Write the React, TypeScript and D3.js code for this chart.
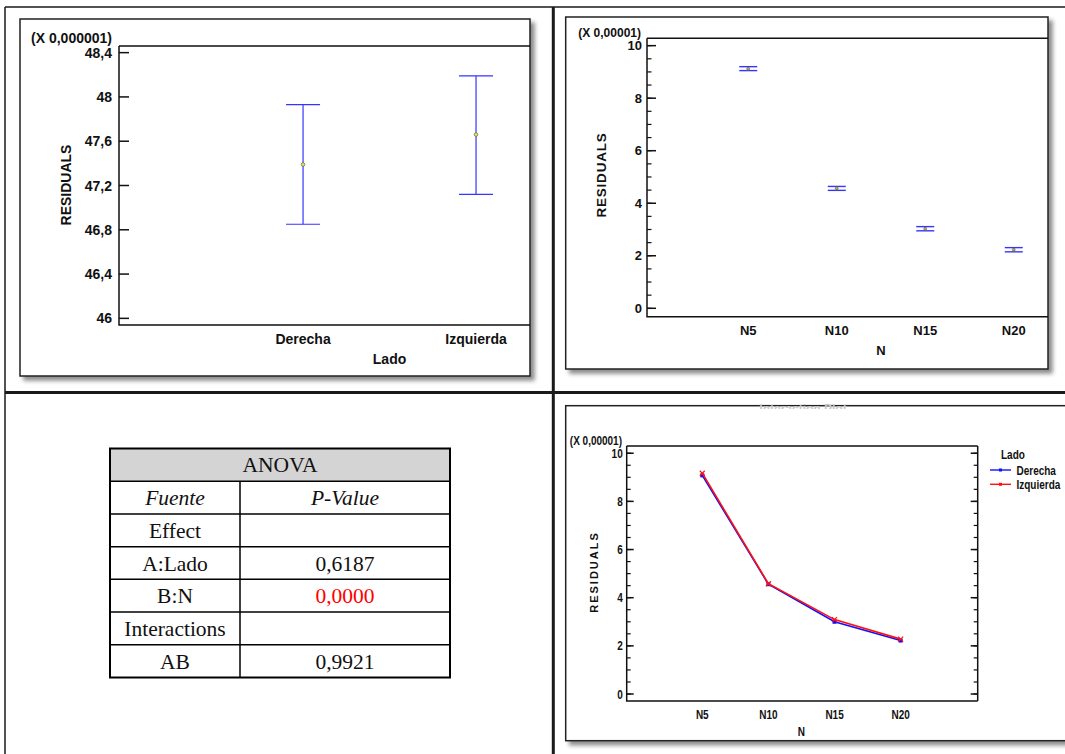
import * as d3 from "d3";

const LADO = ["Derecha", "Izquierda"];
const LADO_MEAN = [47.39, 47.66];
const LADO_LOW = [46.85, 47.12];
const LADO_HIGH = [47.93, 48.19];
const LADO_TICKS = [46, 46.4, 46.8, 47.2, 47.6, 48, 48.4];

const N_LEVELS = ["N5", "N10", "N15", "N20"];
const N_MEAN = [9.12, 4.57, 3.03, 2.23];
const N_LOW = [9.05, 4.49, 2.95, 2.15];
const N_HIGH = [9.2, 4.64, 3.11, 2.31];
const N_TICKS = [0, 2, 4, 6, 8, 10];

const DERECHA = [9.08, 4.56, 3.0, 2.22];
const IZQUIERDA = [9.17, 4.58, 3.09, 2.28];

const ANOVA_FUENTE = ["Effect", "A:Lado", "B:N", "Interactions", "AB"];
const ANOVA_P = ["", "0,6187", "0,0000", "", "0,9921"];
const ANOVA_SIGNIF = [false, false, true, false, false];

const W = 1065;
const H = 754;
const SANS = "'Liberation Sans', Arial, sans-serif";
const SERIF = "'Liberation Serif', 'Times New Roman', serif";
const BLUE = "#3535ff";

const fmt = d3
  .formatLocale({ decimal: ",", thousands: ".", grouping: [3], currency: ["", ""] })
  .format("~g");

function Panel({ x, y, w, h }: { x: number; y: number; w: number; h: number }) {
  return (
    <rect x={x} y={y} width={w} height={h} fill="#fff" stroke="#222" strokeWidth={1.5} filter="url(#shadow)" />
  );
}

function Frame({ l, t, r, b }: { l: number; t: number; r: number; b: number }) {
  return (
    <path d={`M${l},${t}H${r}M${l},${t}V${b}H${r}`} fill="none" stroke="#111" strokeWidth={1.5} />
  );
}

// condensed text: no narrow font installed, so squeeze horizontally
function Narrow({
  x,
  y,
  anchor = "start",
  size = 12.5,
  children,
  fill,
}: {
  x: number;
  y: number;
  anchor?: string;
  size?: number;
  children: any;
  fill?: string;
}) {
  return (
    <text transform={`translate(${x},${y}) scale(0.8,1)`} textAnchor={anchor} fontSize={size} fill={fill}>
      {children}
    </text>
  );
}

// top-left: means by Lado
function LadoMeans() {
  const l = 119, t = 46, r = 530, b = 325;
  const y = d3.scaleLinear().domain([45.94, 48.46]).range([b, t]);
  const x = d3.scaleLinear().domain([-0.064, 2.312]).range([l, r]);
  return (
    <g fontFamily={SANS} fontWeight="bold" fill="#111">
      <Panel x={20} y={19} w={510} h={357} />
      <Frame l={l} t={t} r={r} b={b} />
      {LADO_TICKS.map((v) => (
        <g key={v}>
          <line x1={l} x2={l + 10} y1={y(v)} y2={y(v)} stroke="#111" strokeWidth={1.5} />
          <text x={l - 7} y={y(v)} dy="0.36em" textAnchor="end" fontSize={14}>
            {fmt(v)}
          </text>
        </g>
      ))}
      <text x={112} y={43} textAnchor="end" fontSize={14}>(X 0,000001)</text>
      <text transform={`translate(71,185) rotate(-90)`} textAnchor="middle" fontSize={14}>
        RESIDUALS
      </text>
      {LADO.map((name, i) => {
        const cx = x(i + 1);
        return (
          <g key={name}>
            <line x1={cx} x2={cx} y1={y(LADO_LOW[i])} y2={y(LADO_HIGH[i])} stroke={BLUE} strokeWidth={1.2} />
            <line x1={cx - 17} x2={cx + 17} y1={y(LADO_LOW[i])} y2={y(LADO_LOW[i])} stroke={BLUE} strokeWidth={1.2} />
            <line x1={cx - 17} x2={cx + 17} y1={y(LADO_HIGH[i])} y2={y(LADO_HIGH[i])} stroke={BLUE} strokeWidth={1.2} />
            <circle cx={cx} cy={y(LADO_MEAN[i])} r={1.8} fill="#e8e070" stroke="#777733" strokeWidth={0.8} />
            <text x={cx} y={344} textAnchor="middle" fontSize={14}>{name}</text>
          </g>
        );
      })}
      <text x={(x(1) + x(2)) / 2} y={364} textAnchor="middle" fontSize={14}>Lado</text>
    </g>
  );
}

// top-right: means by N
function NMeans() {
  const l = 647, t = 38.3, r = 1048, b = 316.7;
  const y = d3.scaleLinear().domain([-0.32, 10.28]).range([b, t]);
  const x = d3.scaleLinear().domain([-0.144, 4.387]).range([l, r]);
  const minor = d3.range(0, 10.01, 0.5);
  return (
    <g fontFamily={SANS} fontWeight="bold" fill="#111">
      <Panel x={565.7} y={17} w={482.3} h={352} />
      <Frame l={l} t={t} r={r} b={b} />
      {minor.map((v) => (
        <line key={v} x1={l} x2={l + 4.5} y1={y(v)} y2={y(v)} stroke="#111" strokeWidth={1.2} />
      ))}
      {N_TICKS.map((v) => (
        <g key={v}>
          <line x1={l} x2={l + 9} y1={y(v)} y2={y(v)} stroke="#111" strokeWidth={1.5} />
          <text x={l - 5} y={y(v)} dy="0.36em" textAnchor="end" fontSize={13}>
            {fmt(v)}
          </text>
        </g>
      ))}
      <text x={641} y={36.5} textAnchor="end" fontSize={12}>(X 0,00001)</text>
      <text transform={`translate(606,175) rotate(-90)`} textAnchor="middle" fontSize={13.5} letterSpacing={0.8}>
        RESIDUALS
      </text>
      {N_LEVELS.map((name, i) => {
        const cx = x(i + 1);
        return (
          <g key={name}>
            <line x1={cx} x2={cx} y1={y(N_LOW[i])} y2={y(N_HIGH[i])} stroke={BLUE} strokeWidth={1.2} />
            <line x1={cx - 9} x2={cx + 9} y1={y(N_LOW[i])} y2={y(N_LOW[i])} stroke={BLUE} strokeWidth={1.4} />
            <line x1={cx - 9} x2={cx + 9} y1={y(N_HIGH[i])} y2={y(N_HIGH[i])} stroke={BLUE} strokeWidth={1.4} />
            <circle cx={cx} cy={y(N_MEAN[i])} r={1.5} fill="#b8b040" stroke="#666633" strokeWidth={0.6} />
            <text x={cx} y={335} textAnchor="middle" fontSize={13}>{name}</text>
          </g>
        );
      })}
      <text x={(x(2) + x(3)) / 2} y={355} textAnchor="middle" fontSize={13}>N</text>
    </g>
  );
}

// bottom-right: interaction plot
function Interaction() {
  const l = 626.7, t = 446, r = 977.7, b = 701;
  const y = d3.scaleLinear().domain([-0.29, 10.3]).range([b, t]);
  const x = d3.scaleLinear().domain([-0.143, 5.165]).range([l, r]);
  const minor = d3.range(0, 10.01, 0.5);
  const line = d3
    .line<number>()
    .x((_, i) => x(i + 1))
    .y((d) => y(d));
  return (
    <g fontFamily={SANS} fontWeight="bold" fill="#111">
      <Panel x={565.7} y={405.7} w={520} h={335} />
      <clipPath id="ttl">
        <rect x={740} y={401} width={120} height={8} />
      </clipPath>
      <text x={803} y={413} textAnchor="middle" fontSize={12} fill="#c8c8c8" clipPath="url(#ttl)">
        Interaction Plot
      </text>
      <Frame l={l} t={t} r={r} b={b} />
      <line x1={r} x2={r} y1={t} y2={b} stroke="#111" strokeWidth={1.5} />
      {minor.map((v) => (
        <g key={v} stroke="#111" strokeWidth={1.2}>
          <line x1={l} x2={l + 4} y1={y(v)} y2={y(v)} />
          <line x1={r} x2={r - 4} y1={y(v)} y2={y(v)} />
        </g>
      ))}
      {N_TICKS.map((v) => (
        <g key={v}>
          <g stroke="#111" strokeWidth={1.5}>
            <line x1={l} x2={l + 7} y1={y(v)} y2={y(v)} />
            <line x1={r} x2={r - 7} y1={y(v)} y2={y(v)} />
          </g>
          <Narrow x={l - 4} y={y(v) + 4.5} anchor="end">
            {fmt(v)}
          </Narrow>
        </g>
      ))}
      <Narrow x={622} y={445} anchor="end">(X 0,00001)</Narrow>
      <text transform={`translate(598,572) rotate(-90)`} textAnchor="middle" fontSize={11} letterSpacing={2}>
        RESIDUALS
      </text>
      <path d={line(DERECHA) ?? ""} fill="none" stroke="#1010ff" strokeWidth={1.6} />
      {DERECHA.map((v, i) => (
        <rect key={i} x={x(i + 1) - 2} y={y(v) - 2} width={4} height={4} fill="#1010ff" />
      ))}
      <path d={line(IZQUIERDA) ?? ""} fill="none" stroke="#ff1010" strokeWidth={1.6} />
      {IZQUIERDA.map((v, i) => (
        <path
          key={i}
          d={`M${x(i + 1) - 2.5},${y(v) - 2.5}L${x(i + 1) + 2.5},${y(v) + 2.5}M${x(i + 1) - 2.5},${y(v) + 2.5}L${x(i + 1) + 2.5},${y(v) - 2.5}`}
          stroke="#ff1010"
          strokeWidth={1.2}
        />
      ))}
      {N_LEVELS.map((name, i) => (
        <Narrow key={name} x={x(i + 1)} y={719} anchor="middle">{name}</Narrow>
      ))}
      <Narrow x={(x(2) + x(3)) / 2} y={735.5} anchor="middle">N</Narrow>
      <Narrow x={1001} y={459}>Lado</Narrow>
      {[
        { name: "Derecha", color: "#1010ff", yy: 470 },
        { name: "Izquierda", color: "#ff1010", yy: 484.3 },
      ].map((e) => (
        <g key={e.name}>
          <line x1={990} x2={1011} y1={e.yy} y2={e.yy} stroke={e.color} strokeWidth={1.4} />
          <rect x={999} y={e.yy - 1.5} width={3} height={3} fill={e.color} />
          <Narrow x={1016.5} y={e.yy + 4.5}>{e.name}</Narrow>
        </g>
      ))}
    </g>
  );
}

function AnovaTable() {
  const l = 110, r = 450, mid = 240;
  const rows = ["ANOVA", "Fuente", ...ANOVA_FUENTE];
  const y = d3.scaleBand<number>().domain(d3.range(rows.length)).range([448.5, 677.5]);
  const bw = y.bandwidth();
  return (
    <g fontFamily={SERIF} fontSize={21.5} fill="#111">
      <rect x={l} y={y(0)} width={r - l} height={bw} fill="#d4d4d4" />
      {d3.range(1, rows.length).map((i) => (
        <line key={i} x1={l} x2={r} y1={y(i)} y2={y(i)} stroke="#000" strokeWidth={1.5} />
      ))}
      <line x1={mid} x2={mid} y1={y(1)} y2={677.5} stroke="#000" strokeWidth={1.5} />
      <rect x={l} y={448.5} width={r - l} height={229} fill="none" stroke="#000" strokeWidth={2} />
      <text x={(l + r) / 2} y={(y(0) ?? 0) + bw / 2} dy="0.35em" textAnchor="middle">ANOVA</text>
      <text x={(l + mid) / 2} y={(y(1) ?? 0) + bw / 2} dy="0.35em" textAnchor="middle" fontStyle="italic">Fuente</text>
      <text x={(mid + r) / 2} y={(y(1) ?? 0) + bw / 2} dy="0.35em" textAnchor="middle" fontStyle="italic">P-Value</text>
      {ANOVA_FUENTE.map((f, i) => (
        <g key={f}>
          <text x={(l + mid) / 2} y={(y(i + 2) ?? 0) + bw / 2} dy="0.35em" textAnchor="middle">{f}</text>
          <text
            x={(mid + r) / 2}
            y={(y(i + 2) ?? 0) + bw / 2}
            dy="0.35em"
            textAnchor="middle"
            fill={ANOVA_SIGNIF[i] ? "#ff0000" : "#111"}
          >
            {ANOVA_P[i]}
          </text>
        </g>
      ))}
    </g>
  );
}

export default function App() {
  return (
    <svg
      width={W}
      height={H}
      viewBox={`0 0 ${W} ${H}`}
      style={{ position: "absolute", left: 0, top: 0, background: "#fff" }}
    >
      <defs>
        <filter id="shadow" x="-5%" y="-5%" width="115%" height="120%">
          <feDropShadow dx={4} dy={4} stdDeviation={2.2} floodColor="#000" floodOpacity={0.45} />
        </filter>
      </defs>
      <rect width={W} height={H} fill="#fff" />
      <g stroke="#1a1a1a">
        <line x1={5} x2={W} y1={7} y2={7} strokeWidth={1.5} />
        <line x1={5} x2={5} y1={7} y2={H} strokeWidth={1.5} />
        <line x1={553.3} x2={553.3} y1={7} y2={H} strokeWidth={3} />
        <line x1={5} x2={W} y1={392.5} y2={392.5} strokeWidth={3} />
      </g>
      <LadoMeans />
      <NMeans />
      <Interaction />
      <AnovaTable />
    </svg>
  );
}
